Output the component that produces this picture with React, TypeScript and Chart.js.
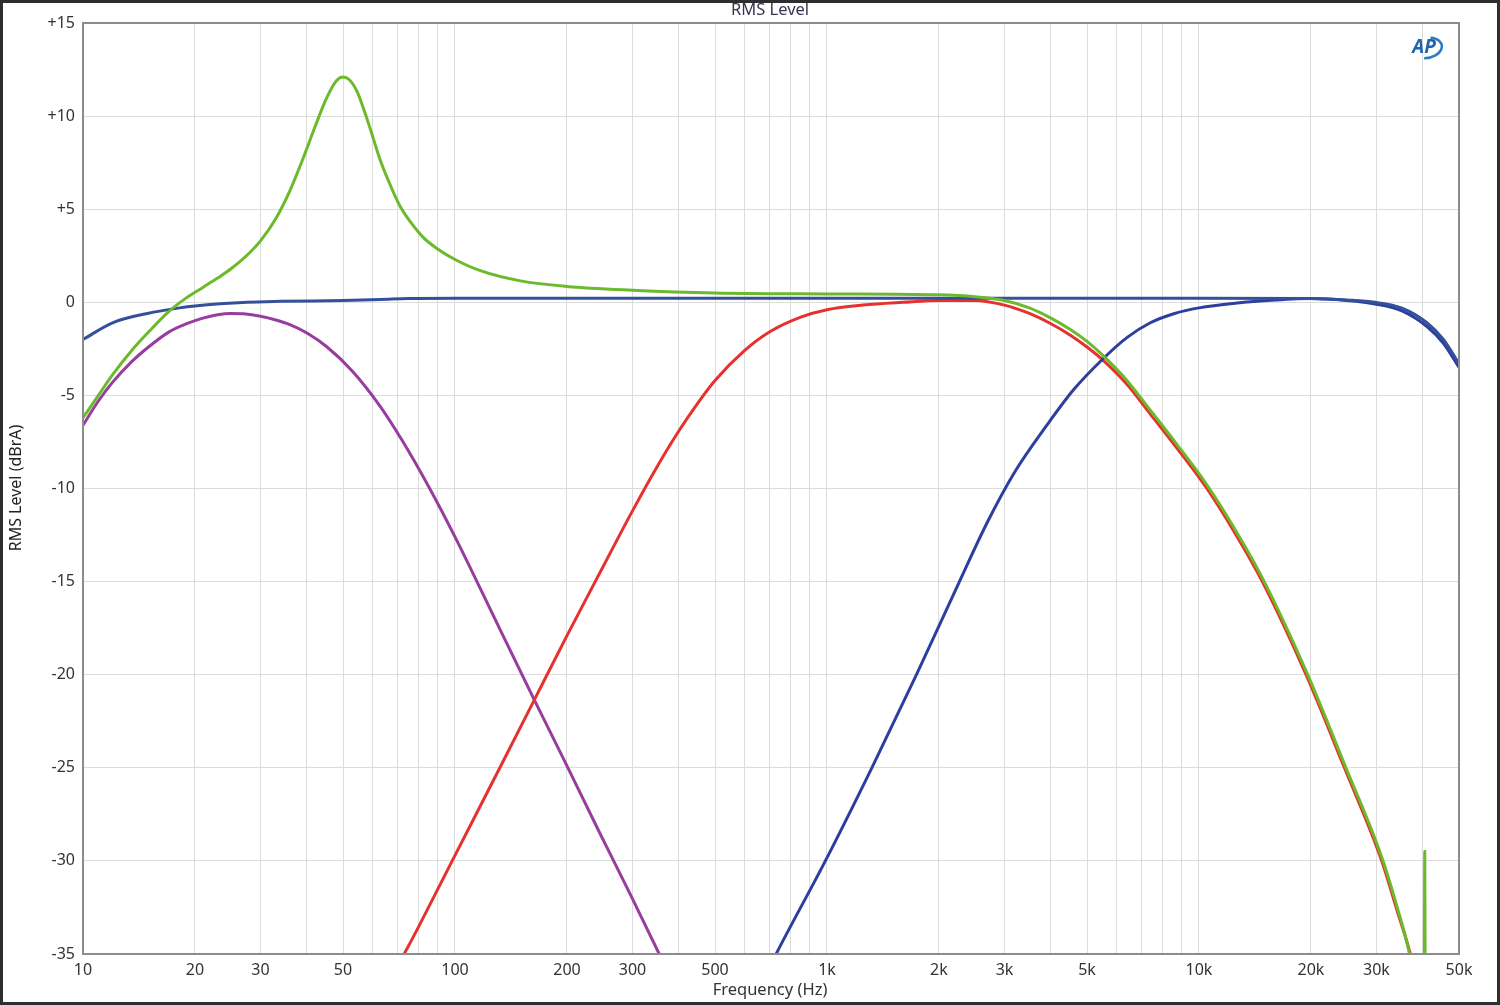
import React, { useEffect, useRef } from "react";
import { Chart, registerables } from "chart.js";

Chart.register(...registerables);

// ---- Data ----
const greenFreq = [10, 11, 12, 13.5, 15, 17, 19, 21, 23, 25, 27.5, 30, 33, 36, 39, 42, 45, 48, 50, 52, 54.6, 57, 59, 62.8, 66, 71, 76, 82, 90, 100, 117, 150, 200, 300, 500, 1000, 2000, 2500, 3000, 3500, 4000, 4500, 5000, 5480, 6400, 7400, 8700, 10500, 12500, 14800, 19400, 24600, 31000, 34000, 36800, 37500, 38500, 40350, 40450, 40550];
const greenDb = [-6.2, -5.0, -3.9, -2.6, -1.6, -0.5, 0.25, 0.8, 1.3, 1.8, 2.5, 3.3, 4.5, 6.0, 7.7, 9.4, 10.9, 11.9, 12.1, 11.95, 11.3, 10.3, 9.4, 7.7, 6.6, 5.2, 4.3, 3.5, 2.85, 2.3, 1.7, 1.15, 0.85, 0.65, 0.5, 0.45, 0.4, 0.3, 0.1, -0.3, -0.85, -1.45, -2.1, -2.8, -4.2, -5.8, -7.6, -9.8, -12.2, -14.8, -19.8, -24.8, -29.8, -32.4, -35, -36, null, -36, -29.5, -36];

const redFreq = [68.5, 73, 80, 100, 132, 162, 200, 250, 300, 350, 400, 450, 500, 600, 700, 850, 1000, 1250, 1600, 2000, 2500, 3000, 3500, 4000, 4500, 5000, 5480, 6400, 7400, 8700, 10500, 12500, 14800, 19400, 24600, 31000, 34000, 37000, 38000];
const redDb = [-36, -35, -33.5, -29.7, -25.0, -21.5, -17.9, -14.2, -11.2, -8.8, -6.9, -5.4, -4.2, -2.6, -1.6, -0.8, -0.4, -0.15, 0.0, 0.1, 0.1, -0.15, -0.6, -1.15, -1.75, -2.4, -3.05, -4.4, -6.0, -7.8, -10.0, -12.4, -15.0, -20.0, -25.0, -30.0, -32.6, -35, -36];

const purpleFreq = [10, 11, 12, 13.5, 15, 17, 19, 21, 23, 25, 27, 30, 33, 36, 40, 45.3, 53, 63, 72, 85.5, 100, 132, 162, 200, 245, 296, 354, 374];
const purpleDb = [-6.6, -5.3, -4.3, -3.2, -2.4, -1.6, -1.15, -0.85, -0.67, -0.6, -0.62, -0.75, -0.95, -1.2, -1.65, -2.4, -3.7, -5.6, -7.4, -10.0, -12.6, -17.55, -21.2, -24.9, -28.5, -31.8, -35, -36];

const flatFreq = [10, 12, 14.9, 18.2, 20, 27.6, 34, 50, 63, 75, 100, 1000, 10000, 20000, 25000, 29700, 35000, 41000, 45400, 50000];
const flatDb = [-2.0, -1.1, -0.6, -0.3, -0.2, 0.0, 0.05, 0.1, 0.15, 0.2, 0.22, 0.22, 0.22, 0.2, 0.12, 0.0, -0.3, -1.1, -2.0, -3.3];

const tweeterFreq = [690, 730, 990, 1320, 1740, 2270, 2700, 3200, 3900, 4600, 5480, 6400, 7400, 8600, 10000, 12500, 16000, 20000, 25000, 30000, 35000, 41000, 45400, 50000];
const tweeterDb = [-36, -35, -30, -25, -20, -15, -11.8, -9.1, -6.6, -4.7, -3.1, -1.9, -1.1, -0.6, -0.3, -0.05, 0.12, 0.2, 0.1, -0.1, -0.45, -1.3, -2.2, -3.5];

const xTickValues = [10, 20, 30, 50, 100, 200, 300, 500, 1000, 2000, 3000, 5000, 10000, 20000, 30000, 50000];
const xTickLabels = ["10", "20", "30", "50", "100", "200", "300", "500", "1k", "2k", "3k", "5k", "10k", "20k", "30k", "50k"];

const yMin = -35;
const yMax = 15;
const yStep = 5;

const FONT = "'Noto Sans', 'Open Sans', sans-serif";

function pts(f: number[], v: (number | null)[]) {
  return f.map((x, i) => ({ x, y: v[i] }));
}

// grid line positions: 1..9 x 10^n within range
const gridFreqs: number[] = [];
for (let d = 10; d <= 10000; d *= 10) {
  for (let m = 1; m <= 9; m++) {
    const v = m * d;
    if (v >= 10 && v <= 50000) gridFreqs.push(v);
  }
}

const decorPlugin = {
  id: "decor",
  afterDraw(chart: any) {
    const ctx = chart.ctx as CanvasRenderingContext2D;
    const a = chart.chartArea;
    ctx.save();
    // plot border
    ctx.strokeStyle = "#8c8c8c";
    ctx.lineWidth = 2;
    ctx.strokeRect(a.left, a.top, a.right - a.left, a.bottom - a.top);
    // title
    ctx.fillStyle = "#3b3350";
    ctx.font = `16.5px ${FONT}`;
    ctx.textAlign = "center";
    ctx.textBaseline = "middle";
    ctx.fillText("RMS Level", 770, 10);
    // x title
    ctx.fillStyle = "#333";
    ctx.font = `16.5px ${FONT}`;
    ctx.fillText("Frequency (Hz)", 770, 990);
    // y title
    ctx.save();
    ctx.translate(16, 488);
    ctx.rotate(-Math.PI / 2);
    ctx.font = `16px ${FONT}`;
    ctx.fillStyle = "#222";
    ctx.fillText("RMS Level (dBrA)", 0, 0);
    ctx.restore();
    // AP logo
    ctx.save();
    ctx.strokeStyle = "#2a7cc4";
    ctx.lineWidth = 2.5;
    ctx.beginPath();
    ctx.ellipse(1427, 48, 15, 10, -0.2, -1.2, 1.9);
    ctx.stroke();
    ctx.fillStyle = "#1f64b0";
    ctx.font = `italic bold 19px ${FONT}`;
    ctx.fillText("AP", 1424, 48);
    ctx.restore();
    // outer frame
    ctx.strokeStyle = "#2e2e2e";
    ctx.lineWidth = 3;
    ctx.strokeRect(1.5, 1.5, 1497, 1002);
    ctx.restore();
  },
};

export default function App() {
  const ref = useRef<HTMLCanvasElement | null>(null);
  useEffect(() => {
    document.body.style.margin = "0";
    const canvas = ref.current!;
    const line = (label: string, data: any[], color: string) => ({
      label,
      data,
      borderColor: color,
      backgroundColor: color,
      borderWidth: 3,
      pointRadius: 0,
      fill: false,
      spanGaps: false,
      cubicInterpolationMode: "monotone" as const,
    });
    const chart = new Chart(canvas, {
      type: "line",
      data: {
        datasets: [
          line("Sum", pts(greenFreq, greenDb), "#6cba2c"),
          line("Flat", pts(flatFreq, flatDb), "#34509a"),
          line("Tweeter", pts(tweeterFreq, tweeterDb), "#2c3f9f"),
          line("Mid", pts(redFreq, redDb), "#e6322e"),
          line("Woofer", pts(purpleFreq, purpleDb), "#973d9f"),
        ],
      },
      plugins: [decorPlugin],
      options: {
        responsive: false,
        animation: false,
        devicePixelRatio: 1,
        layout: { padding: { top: 23, right: 41, left: 0, bottom: 0 } },
        plugins: { legend: { display: false }, tooltip: { enabled: false }, title: { display: false } },
        scales: {
          x: {
            type: "logarithmic",
            min: 10,
            max: 50000,
            afterBuildTicks: (scale: any) => {
              scale.ticks = gridFreqs.map((v) => ({ value: v }));
            },
            afterFit: (scale: any) => {
              scale.height = 51;
            },
            border: { display: false },
            grid: { color: "#dcdcdc", lineWidth: 1, drawTicks: false },
            ticks: {
              autoSkip: false,
              maxRotation: 0,
              minRotation: 0,
              padding: 7,
              color: "#333",
              font: { family: FONT, size: 16 },
              callback: (value: any) => {
                const i = xTickValues.indexOf(Number(value));
                return i >= 0 ? xTickLabels[i] : "";
              },
            },
          },
          y: {
            type: "linear",
            min: yMin,
            max: yMax,
            afterFit: (scale: any) => {
              scale.width = 83;
            },
            border: { display: false },
            grid: { color: "#dcdcdc", lineWidth: 1, drawTicks: false },
            ticks: {
              stepSize: yStep,
              padding: 8,
              color: "#333",
              font: { family: FONT, size: 16 },
              callback: (value: any) => (Number(value) > 0 ? "+" + value : String(value)),
            },
          },
        },
      },
    } as any);
    return () => chart.destroy();
  }, []);
  return (
    <div style={{ position: "fixed", left: 0, top: 0, width: 1500, height: 1005, background: "#fff" }}>
      <canvas ref={ref} width={1500} height={1005} style={{ display: "block" }} />
    </div>
  );
}
